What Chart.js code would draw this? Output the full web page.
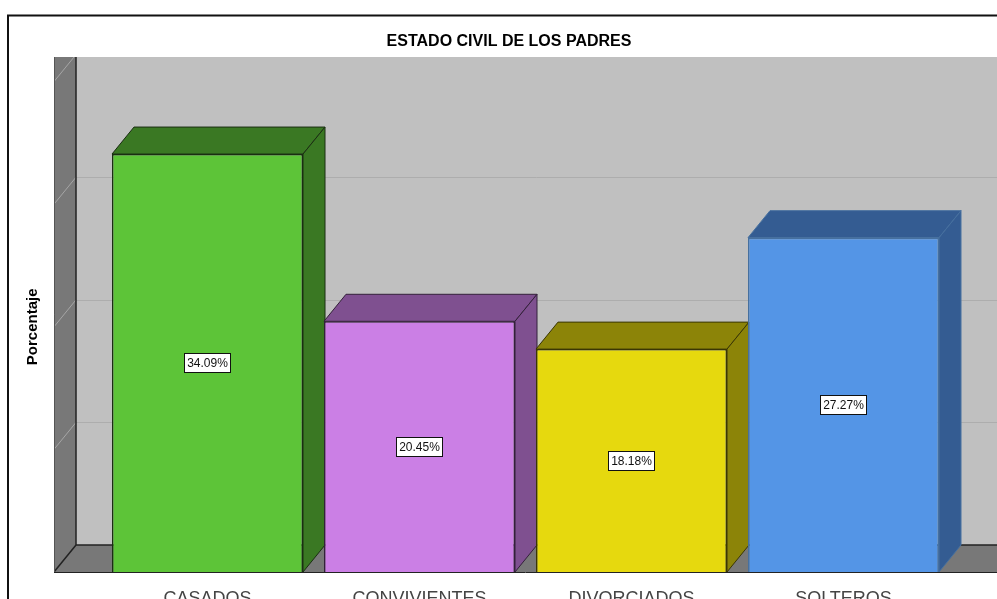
<!DOCTYPE html>
<html><head><meta charset="utf-8">
<style>html,body{margin:0;padding:0;background:#fff;overflow:hidden}canvas{display:block}</style>
<script src="https://cdn.jsdelivr.net/npm/chart.js@4/dist/chart.umd.js"></script>
</head><body>
<canvas id="c" width="997" height="599"></canvas>
<script>
const categories = ['CASADOS','CONVIVIENTES','DIVORCIADOS','SOLTEROS'];
const values = [34.09,20.45,18.18,27.27];
const frontColors = ['#5DC438','#CB7FE5','#E6D90E','#5495E6'];
const depthColors = ['#3A7823','#7F5090','#8C8408','#345C92'];
const edgeColors = ['#1A2E12','#33203A','#3A3604','#46709F'];
const chartTitle = 'ESTADO CIVIL DE LOS PADRES';
const yTitle = 'Porcentaje';
const DX = 22, DY = 27, PLOT_TOP = 57, PLOT_LEFT = 54;

function poly(ctx, pts, fill, stroke){
  ctx.beginPath();
  pts.forEach((p,i)=> i?ctx.lineTo(p[0],p[1]):ctx.moveTo(p[0],p[1]));
  ctx.closePath();
  if(fill){ctx.fillStyle=fill;ctx.fill();}
  if(stroke){ctx.strokeStyle=stroke;ctx.lineWidth=1;ctx.stroke();}
}
const scene = {
  id:'scene',
  afterLayout(chart){
    const t = chart.titleBlock; t.left = 21; t.width = 976; t.right = 997;
  },
  beforeDraw(chart){
    const ctx = chart.ctx, W = chart.width, H = chart.height;
    ctx.save();
    ctx.strokeStyle='#111'; ctx.lineWidth=2;
    ctx.beginPath(); ctx.moveTo(8,H+2); ctx.lineTo(8,15.5); ctx.lineTo(W+2,15.5); ctx.stroke();
    const y0 = chart.scales.y.getPixelForValue(0);
    const bx = PLOT_LEFT+DX, by = y0-DY;
    ctx.beginPath(); ctx.rect(PLOT_LEFT,PLOT_TOP,W,y0-PLOT_TOP+1); ctx.clip();
    ctx.fillStyle='#C0C0C0'; ctx.fillRect(bx,PLOT_TOP,W,by-PLOT_TOP);
    poly(ctx,[[PLOT_LEFT,y0],[bx,by],[bx,PLOT_TOP-40],[PLOT_LEFT,PLOT_TOP-40]],'#787878');
    poly(ctx,[[PLOT_LEFT,y0],[bx,by],[W+5,by],[W+5,y0]],'#787878');
    chart.scales.y.ticks.forEach(t=>{
      if(t.value===0) return;
      const y = chart.scales.y.getPixelForValue(t.value);
      ctx.strokeStyle='#ADADAD'; ctx.lineWidth=1;
      ctx.beginPath(); ctx.moveTo(bx,Math.round(y-DY)+.5); ctx.lineTo(W,Math.round(y-DY)+.5); ctx.stroke();
      ctx.strokeStyle='#A6A6A6';
      ctx.beginPath(); ctx.moveTo(PLOT_LEFT,y); ctx.lineTo(bx,y-DY); ctx.stroke();
    });
    ctx.strokeStyle='#222'; ctx.lineWidth=1.5;
    ctx.beginPath(); ctx.moveTo(bx,PLOT_TOP); ctx.lineTo(bx,by); ctx.lineTo(W,by);
    ctx.moveTo(PLOT_LEFT,y0); ctx.lineTo(bx,by); ctx.stroke();
    ctx.strokeStyle='#555'; ctx.lineWidth=1;
    ctx.beginPath(); ctx.moveTo(PLOT_LEFT+.5,PLOT_TOP); ctx.lineTo(PLOT_LEFT+.5,y0); ctx.stroke();
    ctx.restore();
  },
  beforeDatasetsDraw(chart){
    const ctx = chart.ctx;
    ctx.save();
    chart.getDatasetMeta(0).data.forEach((b,i)=>{
      const l = b.x-b.width/2, r = b.x+b.width/2, t = b.y, bt = b.base;
      poly(ctx,[[l,t],[l+DX,t-DY],[r+DX,t-DY],[r,t]],depthColors[i],edgeColors[i]);
      poly(ctx,[[r,t],[r+DX,t-DY],[r+DX,bt-DY],[r,bt]],depthColors[i],edgeColors[i]);
    });
    ctx.restore();
  },
  afterDraw(chart){
    const ctx = chart.ctx;
    ctx.save();
    const y0 = chart.scales.y.getPixelForValue(0);
    ctx.strokeStyle='#222'; ctx.lineWidth=1;
    ctx.beginPath(); ctx.moveTo(PLOT_LEFT,y0+.5); ctx.lineTo(chart.width,y0+.5); ctx.stroke();
    ctx.font='12px "Liberation Sans", Arial, sans-serif';
    ctx.textAlign='center'; ctx.textBaseline='middle';
    chart.getDatasetMeta(0).data.forEach((b,i)=>{
      const txt = values[i].toFixed(2)+'%';
      const cx = b.x, cy = (b.y+b.base)/2;
      const w = 47, h = 20;
      const x = Math.round(cx-w/2), y = Math.round(cy-h/2);
      ctx.fillStyle='#fff'; ctx.fillRect(x,y,w,h);
      ctx.strokeStyle='#111'; ctx.lineWidth=1; ctx.strokeRect(x+.5,y+.5,w-1,h-1);
      ctx.fillStyle='#111'; ctx.fillText(txt,cx,cy+1);
    });
    ctx.restore();
  }
};
new Chart(document.getElementById('c'),{
  type:'bar',
  data:{labels:categories,datasets:[{data:values,backgroundColor:frontColors,borderColor:edgeColors,borderWidth:1.5,categoryPercentage:1,barPercentage:0.901}]},
  plugins:[scene],
  options:{
    responsive:false,animation:false,
    layout:{padding:{left:24,right:47.5,top:0,bottom:0}},
    plugins:{
      legend:{display:false},tooltip:{enabled:false},
      title:{display:true,text:chartTitle,color:'#000',font:{family:'"Liberation Sans", Arial, sans-serif',size:16,weight:'bold'},padding:{top:32.4,bottom:30}}
    },
    scales:{
      x:{grid:{display:false},border:{display:false},
         ticks:{color:'#444',font:{family:'"Liberation Sans", Arial, sans-serif',size:18},padding:8,maxRotation:0},
         afterFit(s){s.height=27;}},
      y:{min:0,max:40,grid:{display:false},border:{display:false},
         ticks:{display:false,stepSize:10},
         title:{display:true,text:yTitle,color:'#000',font:{family:'"Liberation Sans", Arial, sans-serif',size:15,weight:'bold'},padding:0},
         afterFit(s){s.width=77.5;}}
    }
  }
});
</script>
</body></html>
